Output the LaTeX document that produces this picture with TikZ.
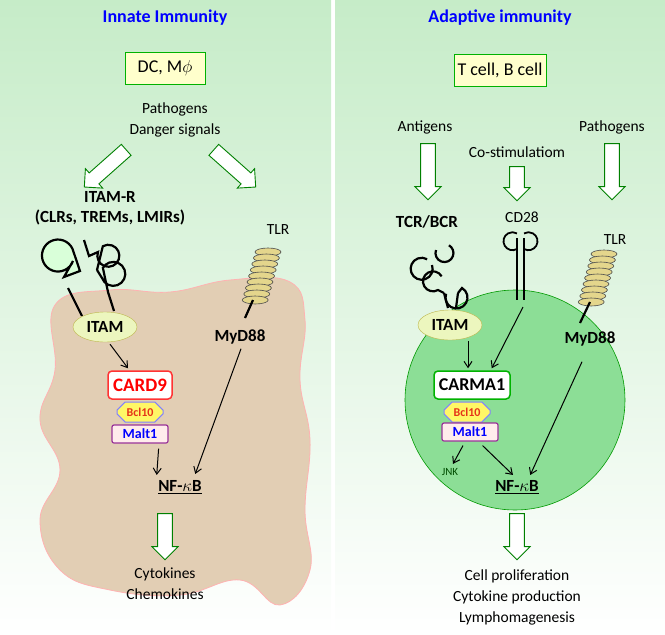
\documentclass[tikz,border=0pt]{standalone}
\usepackage{fontspec}
\setmainfont{Carlito}
\usetikzlibrary{shapes.arrows,shapes.geometric,shapes.misc,arrows.meta,calc}
\definecolor{bgg}{RGB}{198,236,200}
\definecolor{boxy}{RGB}{255,255,204}
\definecolor{tan}{RGB}{226,206,180}
\definecolor{coil}{RGB}{228,214,140}
\definecolor{cellg}{RGB}{140,222,150}
\definecolor{itamf}{RGB}{236,246,190}
\tikzset{
 ha/.style={single arrow,draw=green!50!black,fill=white,minimum width=26pt,single arrow head extend=5pt,single arrow head indent=0pt,inner sep=6pt,line width=0.9pt},
 tbox/.style={draw=green!70!black,fill=boxy,minimum width=80pt,minimum height=32pt,font=\fontsize{18}{18}\selectfont},
 lab/.style={font=\fontsize{15.5}{21}\selectfont,align=center},
 blab/.style={font=\bfseries\fontsize{17}{20}\selectfont,align=center},
 itam/.style={ellipse,draw=olive!60,fill=itamf,minimum width=64pt,minimum height=30pt,inner sep=1pt,font=\bfseries\fontsize{17}{17}\selectfont},
 bcl/.style={chamfered rectangle,chamfered rectangle xsep=5pt,draw=blue!50,fill=yellow!60,line width=1pt,minimum width=46pt,minimum height=20pt,inner sep=1pt,font=\bfseries\fontsize{12}{12}\selectfont,text=red!60!brown},
 malt/.style={rectangle,draw=violet!80,fill=pink!30,line width=1.2pt,rounded corners=2pt,minimum width=56pt,minimum height=18pt,inner sep=1pt,font=\bfseries\fontsize{14}{14}\selectfont,text=blue},
 arr/.style={-{Straight Barb[length=6pt,width=8pt]},line width=1pt},
 rec/.style={line width=2.2pt},
 nfkb/.style={font=\bfseries\fontsize{17}{17}\selectfont},
}
\begin{document}
\begin{tikzpicture}[x=1pt,y=-1pt]
\useasboundingbox (0,0) rectangle (665,635);
\shade[top color=bgg,bottom color=white] (0,0) rectangle (331,635);
\shade[top color=bgg,bottom color=white] (335,0) rectangle (665,635);
% ===== left =====
\node[font=\bfseries\fontsize{18}{18}\selectfont,text=blue] (t1) at (165,18) {Innate Immunity};
\node[tbox] (dc) at (165,68) {DC, M$\phi$};
\node[lab] (path1) at (175,120) {Pathogens\\Danger signals};
\node[ha,minimum height=56pt,rotate=221.6] (a1) at (108,166) {};
\node[ha,minimum height=56pt,rotate=-41.6] (a2) at (232,166) {};
\fill[tan,draw=red!30,line width=0.8pt] plot[smooth cycle,tension=0.7] coordinates {
 (55,305) (110,290) (170,292) (230,280) (290,282) (305,320) (300,380) (310,440) (305,510) (310,570) (280,605) (240,580) (180,595) (110,590) (60,570) (40,520) (60,470) (40,420) (55,370)};
\node[blab] (itamr) at (110,208) {ITAM-R\\(CLRs, TREMs, LMIRs)};
\node[lab] (tlr1) at (278,230) {TLR};
% receptors left
\draw[rec] (82,316) -- (68,288);
\draw[rec,fill=green!15] (80,271) -- (64,277) -- (73,261) arc (20:335:16) -- cycle;
\draw[rec] (84,240) -- (89,256) -- (98,252) arc (200:-120:11) -- (97,270);
\draw[rec] (97,270) -- (102,278) arc (160:-150:12) -- (108,292) -- (114,311);
\foreach \i in {0,...,8}{\fill[coil,draw=black!70,line width=0.6pt] (268-\i*1.6,252+\i*6) ellipse (13pt and 4pt);}
\draw[rec] (253,300) -- (245,318);
\node[itam] (itam1) at (105,327) {ITAM};
\node[draw=red!80,line width=1.5pt,fill=white,rounded corners=4pt,minimum width=64pt,minimum height=28pt,font=\bfseries\fontsize{19}{19}\selectfont,text=red] (card9) at (140,385) {CARD9};
\node[bcl] (bcl1) at (140,412) {Bcl10};
\node[malt] (malt1) at (140,434) {Malt1};
\node[font=\bfseries\fontsize{17}{17}\selectfont] (myd1) at (240,337) {MyD88};
\node[nfkb] (nf1) at (180,487) {\underline{NF-$\kappa$B}};
\draw[arr] ($(itam1.south)+(5,2)$) -- ($(card9.north)+(-12,-2)$);
\draw[arr] ($(malt1.south east)+(-10,5)$) -- ($(nf1.north west)+(2,-2)$);
\draw[arr] ($(myd1.south)+(1,1)$) -- ($(nf1.north east)+(-10,-3)$);
\node[ha,minimum height=46pt,rotate=-90] (a3) at (165,533) {};
\node[lab] (cyt) at (165,584) {Cytokines\\Chemokines};
% ===== right =====
\node[font=\bfseries\fontsize{18}{18}\selectfont,text=blue] (t2) at (500,18) {Adaptive immunity};
\node[tbox] (tc) at (500,70) {T cell, B cell};
\node[lab] (ant) at (425,127) {Antigens};
\node[lab] (cos) at (517,152) {Co-stimulatiom};
\node[lab] (path2) at (612,127) {Pathogens};
\node[ha,minimum height=56pt,rotate=-90] (a4) at (428,168) {};
\node[ha,minimum height=34pt,rotate=-90] (a5) at (517,180) {};
\node[ha,minimum height=56pt,rotate=-90] (a6) at (612,168) {};
\node[blab] (tcr) at (427,222) {TCR/BCR};
\node[lab] (cd28) at (522,217) {CD28};
\node[lab] (tlr2) at (615,240) {TLR};
\fill[cellg,draw=green!60!black,line width=0.6pt] (515,400) circle (110);
% TCR receptor
\draw[rec] (448,308) -- (444,293);
\draw[rec] (456,308) -- (458,293);
\draw[rec] (444,293) ++(0,0) -- (438,290) arc (60:330:10) ;
\draw[rec] (458,293) -- (462,288) arc (-60:200:11);
\draw[rec] (432,265) arc (-20:300:11) (436,250) arc (200:-60:9);
% CD28
\draw[rec] (517,238) -- (517,300) (524,238) -- (524,300);
\draw[line width=1.8pt] (517,249) arc (60:300:9);
\draw[line width=1.8pt] (524,249) arc (120:-120:9);
\foreach \i in {0,...,8}{\fill[coil,draw=black!70,line width=0.6pt] (604-\i*1.6,254+\i*6) ellipse (13pt and 4pt);}
\draw[rec] (590,302) -- (580,323);
\node[itam] (itam2) at (450,325) {ITAM};
\node[draw=green!70!black,line width=1.5pt,fill=white,rounded corners=4pt,minimum width=76pt,minimum height=28pt,font=\bfseries\fontsize{18}{18}\selectfont] (carma) at (472,385) {CARMA1};
\node[bcl] (bcl2) at (467,412) {Bcl10};
\node[malt] (malt2) at (470,432) {Malt1};
\node[font=\bfseries\fontsize{17}{17}\selectfont] (myd2) at (590,339) {MyD88};
\node[font=\fontsize{11}{11}\selectfont,text=green!30!black] (jnk) at (450,472) {JNK};
\node[nfkb] (nf2) at (517,487) {\underline{NF-$\kappa$B}};
\draw[arr] ($(itam2.south)+(18,1)$) -- ($(carma.north)+(-4,-2)$);
\draw[arr] (523,307) -- ($(carma.north east)+(-19,-2)$);
\draw[arr] ($(malt2.south)+(-7,4)$) -- ($(jnk.north)+(3,-1)$);
\draw[arr] ($(malt2.south east)+(-16,4)$) -- ($(nf2.north)+(-4,-2)$);
\draw[arr] ($(myd2.south)+(-8,12)$) -- ($(nf2.north east)+(-12,-2)$);
\node[ha,minimum height=46pt,rotate=-90] (a7) at (517,533) {};
\node[lab] (res) at (517,597) {Cell proliferation\\Cytokine production\\Lymphomagenesis};
\end{tikzpicture}
\end{document}
